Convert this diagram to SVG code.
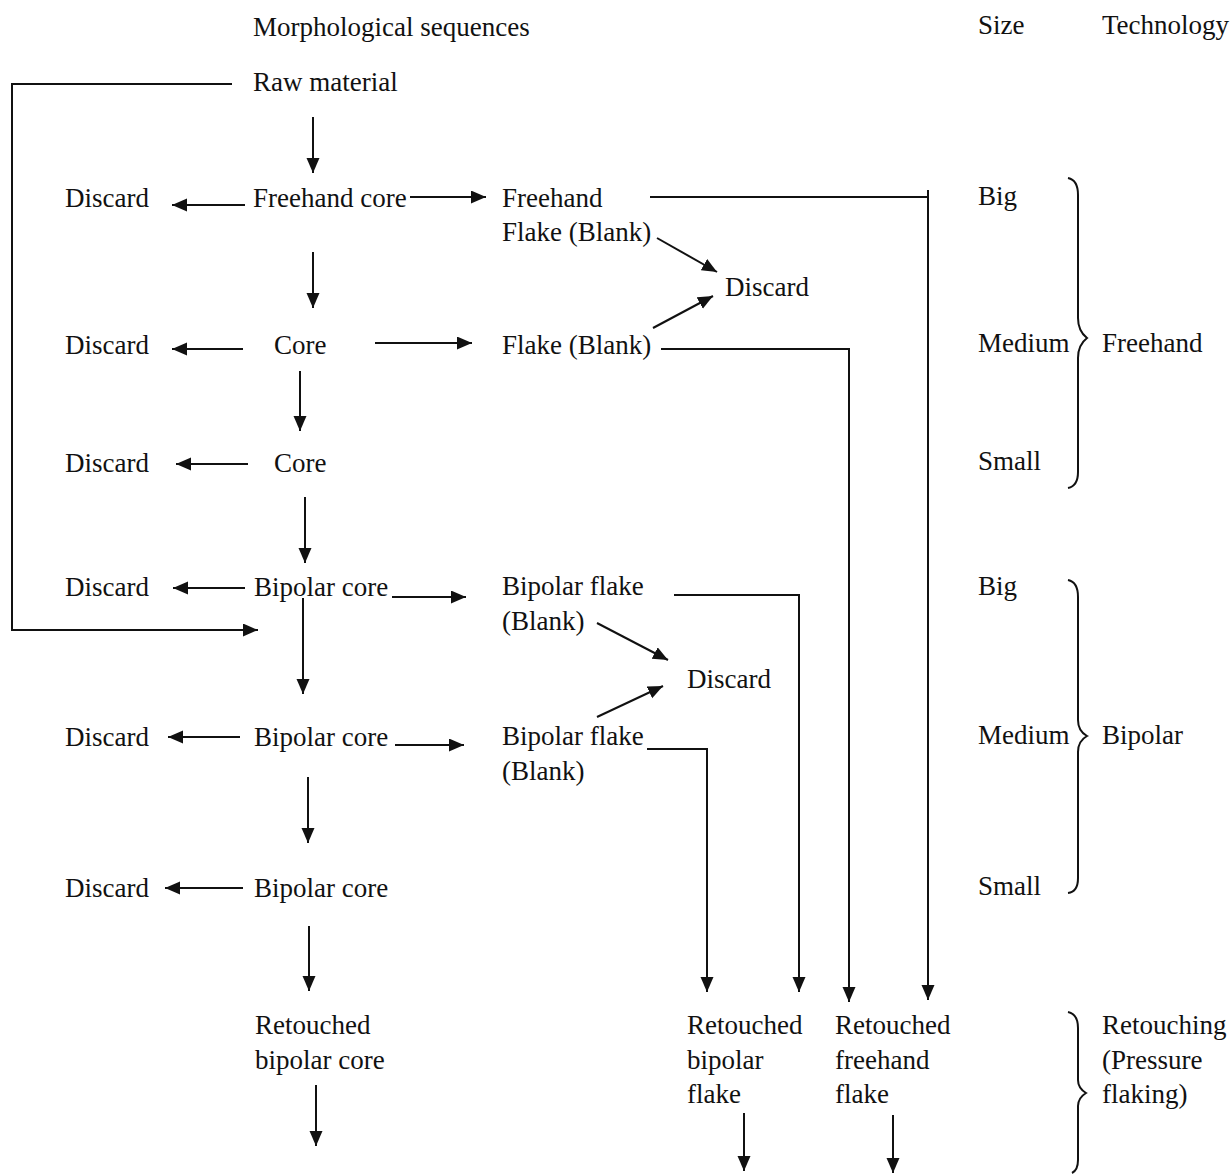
<svg xmlns="http://www.w3.org/2000/svg" width="1232" height="1175" viewBox="0 0 1232 1175">
<style>
text{font-family:"Liberation Serif","Times New Roman",serif;font-size:27px;fill:#111}
.c line,.c path,.c polyline{stroke:#111;stroke-width:2;fill:none}
.b{stroke:#111;stroke-width:2;fill:none}
</style>
<defs>
<marker id="ah" markerUnits="userSpaceOnUse" markerWidth="16" markerHeight="14" refX="15" refY="6.5" orient="auto">
<path d="M0,0 L15,6.5 L0,13 z" fill="#111"/>
</marker>
</defs>
<rect width="1232" height="1175" fill="#fff"/>
<g id="headers">
<text x="253" y="36">Morphological sequences</text>
<text x="978" y="34">Size</text>
<text x="1102" y="34">Technology</text>
</g>
<g id="n-raw"><text x="253" y="91">Raw material</text></g>
<g id="n-d1"><text x="65" y="207">Discard</text></g>
<g id="n-fcore"><text x="253" y="207">Freehand core</text></g>
<g id="n-fflake"><text x="502" y="207">Freehand</text><text x="502" y="241">Flake (Blank)</text></g>
<g id="n-dmid1"><text x="725" y="296">Discard</text></g>
<g id="n-d2"><text x="65" y="354">Discard</text></g>
<g id="n-core1"><text x="274" y="354">Core</text></g>
<g id="n-flake"><text x="502" y="354">Flake (Blank)</text></g>
<g id="n-d3"><text x="65" y="472">Discard</text></g>
<g id="n-core2"><text x="274" y="472">Core</text></g>
<g id="n-d4"><text x="65" y="596">Discard</text></g>
<g id="n-bcore1"><text x="254" y="596">Bipolar core</text></g>
<g id="n-bflake1"><text x="502" y="595">Bipolar flake</text><text x="502" y="630">(Blank)</text></g>
<g id="n-dmid2"><text x="687" y="688">Discard</text></g>
<g id="n-d5"><text x="65" y="746">Discard</text></g>
<g id="n-bcore2"><text x="254" y="746">Bipolar core</text></g>
<g id="n-bflake2"><text x="502" y="745">Bipolar flake</text><text x="502" y="780">(Blank)</text></g>
<g id="n-d6"><text x="65" y="897">Discard</text></g>
<g id="n-bcore3"><text x="254" y="897">Bipolar core</text></g>
<g id="n-rbcore"><text x="255" y="1034">Retouched</text><text x="255" y="1069">bipolar core</text></g>
<g id="n-rbflake"><text x="687" y="1034">Retouched</text><text x="687" y="1069">bipolar</text><text x="687" y="1103">flake</text></g>
<g id="n-rfflake"><text x="835" y="1034">Retouched</text><text x="835" y="1069">freehand</text><text x="835" y="1103">flake</text></g>
<g id="sizes">
<text x="978" y="205">Big</text>
<text x="978" y="352">Medium</text>
<text x="978" y="470">Small</text>
<text x="1102" y="352">Freehand</text>
<text x="978" y="595">Big</text>
<text x="978" y="744">Medium</text>
<text x="978" y="895">Small</text>
<text x="1102" y="744">Bipolar</text>
<text x="1102" y="1034">Retouching</text>
<text x="1102" y="1069">(Pressure</text>
<text x="1102" y="1103">flaking)</text>
</g>
<g id="braces">
<path class="b" d="M1068,178 Q1078,180 1078,195 L1078,318 Q1078,331 1087,338 Q1078,345 1078,358 L1078,472 Q1078,486 1068,488"/>
<path class="b" d="M1068,580 Q1078,582 1078,597 L1078,720 Q1078,731 1087,736 Q1078,741 1078,752 L1078,878 Q1078,892 1068,893"/>
<path class="b" d="M1068,1012 Q1078,1014 1078,1028 L1078,1080 Q1078,1088 1086,1093 Q1078,1098 1078,1106 L1078,1160 Q1078,1170 1072,1173"/>
</g>
<g id="connectors" class="c">
<polyline points="232,84 12,84 12,630 258,630" marker-end="url(#ah)"/>
<line x1="313" y1="117" x2="313" y2="173" marker-end="url(#ah)"/>
<line x1="245" y1="205" x2="172" y2="205" marker-end="url(#ah)"/>
<line x1="410" y1="197" x2="486" y2="197" marker-end="url(#ah)"/>
<line x1="650" y1="197" x2="928" y2="197"/>
<line x1="928" y1="190" x2="928" y2="1000" marker-end="url(#ah)"/>
<line x1="657" y1="238" x2="717" y2="272" marker-end="url(#ah)"/>
<line x1="653" y1="328" x2="713" y2="296" marker-end="url(#ah)"/>
<line x1="313" y1="252" x2="313" y2="308" marker-end="url(#ah)"/>
<line x1="243" y1="349" x2="172" y2="349" marker-end="url(#ah)"/>
<line x1="375" y1="343" x2="472" y2="343" marker-end="url(#ah)"/>
<polyline points="661,349 849,349 849,1002" marker-end="url(#ah)"/>
<line x1="300" y1="371" x2="300" y2="431" marker-end="url(#ah)"/>
<line x1="248" y1="464" x2="176" y2="464" marker-end="url(#ah)"/>
<line x1="305" y1="497" x2="305" y2="563" marker-end="url(#ah)"/>
<line x1="245" y1="588" x2="173" y2="588" marker-end="url(#ah)"/>
<line x1="392" y1="597" x2="466" y2="597" marker-end="url(#ah)"/>
<polyline points="674,595 799,595 799,992" marker-end="url(#ah)"/>
<line x1="597" y1="623" x2="668" y2="660" marker-end="url(#ah)"/>
<line x1="597" y1="717" x2="663" y2="686" marker-end="url(#ah)"/>
<line x1="303" y1="598" x2="303" y2="694" marker-end="url(#ah)"/>
<line x1="240" y1="737" x2="168" y2="737" marker-end="url(#ah)"/>
<line x1="395" y1="745" x2="464" y2="745" marker-end="url(#ah)"/>
<polyline points="647,749 707,749 707,992" marker-end="url(#ah)"/>
<line x1="308" y1="777" x2="308" y2="843" marker-end="url(#ah)"/>
<line x1="243" y1="888" x2="165" y2="888" marker-end="url(#ah)"/>
<line x1="309" y1="926" x2="309" y2="991" marker-end="url(#ah)"/>
<line x1="316" y1="1085" x2="316" y2="1146" marker-end="url(#ah)"/>
<line x1="744" y1="1113" x2="744" y2="1171" marker-end="url(#ah)"/>
<line x1="893" y1="1115" x2="893" y2="1173" marker-end="url(#ah)"/>
</g>
</svg>
